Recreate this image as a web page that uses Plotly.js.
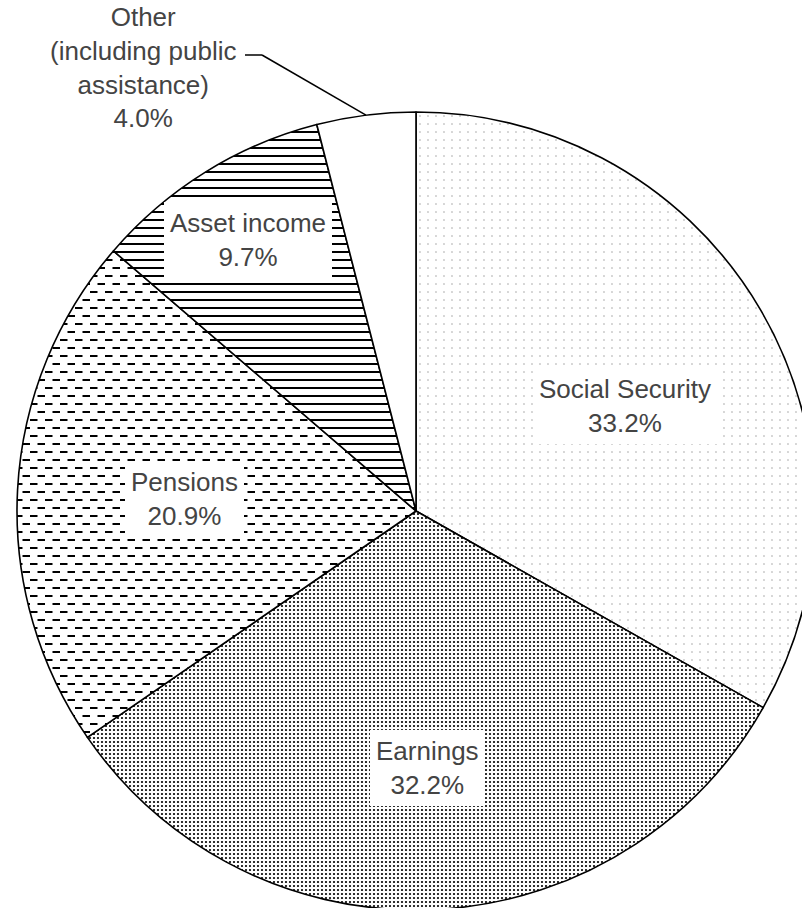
<!DOCTYPE html>
<html><head><meta charset="utf-8">
<script src="https://cdn.plot.ly/plotly-3.0.1.min.js"></script>
<style>html,body{margin:0;padding:0;overflow:hidden;background:#fff;width:802px;height:908px}</style>
</head><body><div id="chart"></div>
<script>
// ---- data ----
const categories = ['Social Security', 'Earnings', 'Pensions', 'Asset income', 'Other'];
const shares = [33.2, 32.2, 20.9, 9.7, 4.0];
const labelTexts = ['Social Security', 'Earnings', 'Pensions', 'Asset income', 'Other<br>(including public<br>assistance)'];

// ---- styles ----
const patternShapes = ['.', '.', '-', '-', ''];
const patternColors = ['#a0a0a0', '#000000', '#000000', '#000000', '#000000'];
const patternSizes = [8, 4, 8, 8, 8];
const patternSolidity = [0.03, 0.24, 0.25, 0.25, 0.1];
const labelRadius = [0.586, 0.645, 0.582, 0.80];
const labelNudge = [[7, -13], [0, 0], [0, 0], [0, 0]];
const textColor = '#444444';
const fontFamily = 'Liberation Sans, Arial, Helvetica, sans-serif';
const fontSize = 26;

// ---- geometry of the page ----
const W = 832, H = 920;
const M = {l: 17, r: 17, t: 112, b: 10, pad: 0};
const plotW = W - M.l - M.r, plotH = H - M.t - M.b;
const pxX = px => (px - M.l) / plotW;
const pxY = py => 1 - (py - M.t) / plotH;

const total = shares.reduce((a, b) => a + b, 0);
const mids = [];
let cum = 0;
shares.forEach(v => { mids.push((cum + v / 2) / total * 2 * Math.PI); cum += v; });

const annotations = [];
for (let i = 0; i < 4; i++) {
  const f = labelRadius[i];
  annotations.push({
    xref: 'paper', yref: 'paper',
    x: 0.5 + 0.5 * f * Math.sin(mids[i]),
    y: 0.5 + 0.5 * f * Math.cos(mids[i]),
    xshift: labelNudge[i][0], yshift: labelNudge[i][1],
    xanchor: 'center', yanchor: 'middle', showarrow: false,
    text: labelTexts[i] + '<br>' + shares[i].toFixed(1) + '%',
    bgcolor: '#ffffff', borderpad: 6, borderwidth: 0,
    font: {family: fontFamily, size: fontSize, color: textColor}
  });
}
// outside label for the last slice
const otherIdx = 4;
annotations.push({
  xref: 'paper', yref: 'paper',
  x: pxX(143), y: pxY(68),
  xanchor: 'center', yanchor: 'middle', showarrow: false,
  text: labelTexts[otherIdx] + '<br>' + shares[otherIdx].toFixed(1) + '%',
  font: {family: fontFamily, size: fontSize, color: textColor}
});
const edgeX = 0.5 + 0.5 * Math.sin(mids[otherIdx]);
const edgeY = 0.5 + 0.5 * Math.cos(mids[otherIdx]);
const lineStyle = {color: '#000000', width: 1.5};
const shapes = [
  {type: 'line', xref: 'paper', yref: 'paper', x0: pxX(245), y0: pxY(55), x1: pxX(262), y1: pxY(55), line: lineStyle},
  {type: 'line', xref: 'paper', yref: 'paper', x0: pxX(262), y0: pxY(55), x1: edgeX, y1: edgeY, line: lineStyle}
];

const trace = {
  type: 'pie',
  labels: categories,
  values: shares,
  sort: false,
  direction: 'clockwise',
  rotation: 0,
  textinfo: 'none',
  hoverinfo: 'label+percent',
  marker: {
    colors: categories.map(() => '#ffffff'),
    line: {color: '#000000', width: 1.6},
    pattern: {
      shape: patternShapes,
      fgcolor: patternColors,
      bgcolor: categories.map(() => '#ffffff'),
      size: patternSizes,
      solidity: patternSolidity,
      fillmode: 'replace',
      fgopacity: 1
    }
  },
  domain: {x: [0, 1], y: [0, 1]}
};

const layout = {
  width: W, height: H,
  margin: M,
  showlegend: false,
  paper_bgcolor: '#ffffff',
  plot_bgcolor: '#ffffff',
  font: {family: fontFamily, color: textColor},
  annotations: annotations,
  shapes: shapes
};

Plotly.newPlot('chart', [trace], layout, {displayModeBar: false, staticPlot: true}).then(gd => {
  // make the Pensions hatch dashed, in staggered rows
  try {
    const slices = gd.querySelectorAll('g.slice path.surface');
    const el = slices[2];
    const fill = el.style.fill || el.getAttribute('style');
    const m = /#([^"')]+)/.exec(fill);
    if (m) {
      const pat = document.getElementById(m[1]);
      if (pat) {
        pat.setAttribute('width', '15px');
        pat.setAttribute('height', '16px');
        const rect = pat.querySelector('rect');
        if (rect) { rect.setAttribute('width', '15px'); rect.setAttribute('height', '16px'); }
        const p = pat.querySelector('path');
        if (p) {
          p.setAttribute('d', 'M0,4H7.5M7.5,12H15');
          p.setAttribute('stroke-width', '2px');
          p.style.strokeWidth = '2px';
        }
      }
    }
  } catch (e) {}
});
</script>
</body></html>
